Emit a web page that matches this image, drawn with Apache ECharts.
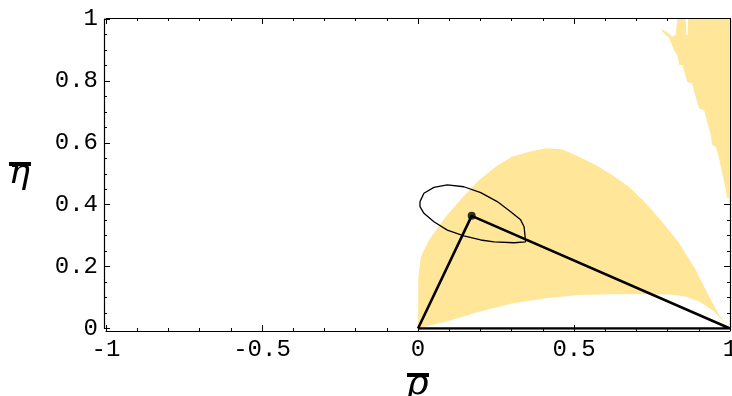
<!DOCTYPE html>
<html>
<head>
<meta charset="utf-8">
<script src="https://cdn.jsdelivr.net/npm/echarts@6/dist/echarts.min.js"></script>
<style>html,body{margin:0;padding:0;background:#fff;}#c{width:732px;height:396px;}</style>
</head>
<body>
<div id="c"></div>
<script>
// ---- data ----
// main allowed region: upper boundary (left to right)
const archUpper = [[0,0],[0.001,0.162],[0.009,0.232],[0.035,0.286],[0.089,0.361],[0.141,0.422],[0.196,0.480],[0.249,0.523],[0.301,0.555],[0.356,0.571],[0.409,0.582],[0.462,0.579],[0.516,0.555],[0.570,0.528],[0.622,0.496],[0.676,0.458],[0.730,0.405],[0.782,0.345],[0.837,0.276],[0.890,0.189],[0.933,0.103],[0.965,0.044],[0.995,0.004]];
// main allowed region: lower boundary (left to right)
const archLower = [[0,0],[0.089,0.022],[0.196,0.054],[0.301,0.081],[0.409,0.098],[0.516,0.108],[0.622,0.111],[0.730,0.111],[0.804,0.110],[0.858,0.103],[0.901,0.087],[0.943,0.060],[0.975,0.027],[0.995,0.004]];
// top-right sliver outline
const sliver = [[0.831,1.0],[0.858,1.0],[0.860,0.948],[0.864,0.948],[0.866,1.0],[1.0,1.0],[1.0,0.421],[0.991,0.421],[0.986,0.453],[0.975,0.501],[0.965,0.550],[0.954,0.587],[0.943,0.593],[0.938,0.625],[0.927,0.668],[0.917,0.706],[0.901,0.711],[0.895,0.733],[0.885,0.765],[0.879,0.792],[0.863,0.797],[0.858,0.814],[0.847,0.851],[0.837,0.851],[0.831,0.884],[0.823,0.894],[0.812,0.921],[0.804,0.940],[0.783,0.959],[0.780,0.968],[0.799,0.957],[0.815,0.943],[0.826,0.948]];
// contour (ellipse)
const ellipse = [[0.0064,0.410],[0.019,0.437],[0.051,0.456],[0.094,0.464],[0.147,0.458],[0.201,0.439],[0.254,0.410],[0.297,0.377],[0.329,0.351],[0.340,0.329],[0.345,0.280],[0.308,0.277],[0.244,0.280],[0.201,0.286],[0.147,0.299],[0.094,0.318],[0.051,0.345],[0.019,0.372],[0.0064,0.394],[0.0064,0.410]];
// unitarity triangle
const apex = [0.172, 0.364];
const triangle = [[0,0], apex, [1,0], [0,0]];
// axis settings
const xTicks = {min:-1, max:1, interval:0.5};
const yTicks = {min:0, max:1, interval:0.2};

const archPolygon = archUpper.concat(archLower.slice().reverse());

function polySeries(points){
  return {
    type:'custom', coordinateSystem:'cartesian2d', xAxisIndex:0, yAxisIndex:0,
    data: points, silent:true, z:1,
    renderItem: function(params, api){
      if (params.dataIndex !== 0) return null;
      const pts = points.map(p => api.coord(p));
      return {type:'polygon', shape:{points:pts}, style:{fill:'#FFE699', stroke:'none'}};
    }
  };
}

const labelFont = {fontFamily:'Liberation Mono', fontSize:24, color:'#000'};
const tickCommon = {inside:true, length:6, lineStyle:{color:'#000', width:1}};
const minorCommon = {show:true, length:3, lineStyle:{color:'#000', width:1}};

const chart = echarts.init(document.getElementById('c'), null, {renderer:'canvas'});
chart.setOption({
  animation:false,
  backgroundColor:'#fff',
  grid:{left:106, right:2, top:19, bottom:67.5, containLabel:false, outerBoundsMode:'none'},
  xAxis:[
    {type:'value', position:'bottom', min:xTicks.min, max:xTicks.max, interval:xTicks.interval, offset:2.5,
     axisLine:{show:true, onZero:false, lineStyle:{color:'#000', width:1.2}},
     axisTick:Object.assign({show:true}, tickCommon), minorTick:Object.assign({splitNumber:5}, minorCommon),
     splitLine:{show:false},
     axisLabel:Object.assign({margin:7}, labelFont),
     name:'ρ', nameLocation:'middle', nameGap:29,
     nameTextStyle:{fontFamily:'DejaVu Serif', fontStyle:'italic', fontSize:36, color:'#000'}},
    {type:'value', position:'top', min:xTicks.min, max:xTicks.max, interval:xTicks.interval, offset:1,
     axisLine:{show:true, onZero:false, lineStyle:{color:'#000', width:1.2}},
     axisTick:Object.assign({show:true}, tickCommon), minorTick:Object.assign({splitNumber:5}, minorCommon),
     splitLine:{show:false}, axisLabel:{show:false}}
  ],
  yAxis:[
    {type:'value', position:'left', min:yTicks.min, max:yTicks.max, interval:yTicks.interval, offset:2,
     axisLine:{show:true, onZero:false, lineStyle:{color:'#000', width:1.2}},
     axisTick:Object.assign({show:true}, tickCommon), minorTick:Object.assign({splitNumber:4}, minorCommon),
     splitLine:{show:false},
     axisLabel:Object.assign({margin:6}, labelFont),
     name:'η', nameLocation:'middle', nameGap:74, nameRotate:0,
     nameTextStyle:{fontFamily:'DejaVu Serif', fontStyle:'italic', fontSize:36, color:'#000', verticalAlign:'middle'}},
    {type:'value', position:'right', min:yTicks.min, max:yTicks.max, interval:yTicks.interval, offset:0,
     axisLine:{show:true, onZero:false, lineStyle:{color:'#000', width:1.2}},
     axisTick:Object.assign({show:true}, tickCommon), minorTick:Object.assign({splitNumber:4}, minorCommon),
     splitLine:{show:false}, axisLabel:{show:false}}
  ],
  graphic:[
    {type:'rect', shape:{x:9, y:162, width:22, height:4}, style:{fill:'#000'}},
    {type:'rect', shape:{x:407, y:373, width:22, height:4}, style:{fill:'#000'}}
  ],
  series:[
    polySeries(archPolygon),
    polySeries(sliver),
    {type:'line', data:ellipse, symbol:'none', smooth:false, z:3,
     lineStyle:{color:'#000', width:1.3}},
    {type:'line', data:triangle, symbol:'none', z:4,
     lineStyle:{color:'#000', width:2.6}},
    {type:'scatter', data:[apex], symbol:'circle', symbolSize:8, z:5,
     itemStyle:{color:'#000'}}
  ]
});
</script>
</body>
</html>
